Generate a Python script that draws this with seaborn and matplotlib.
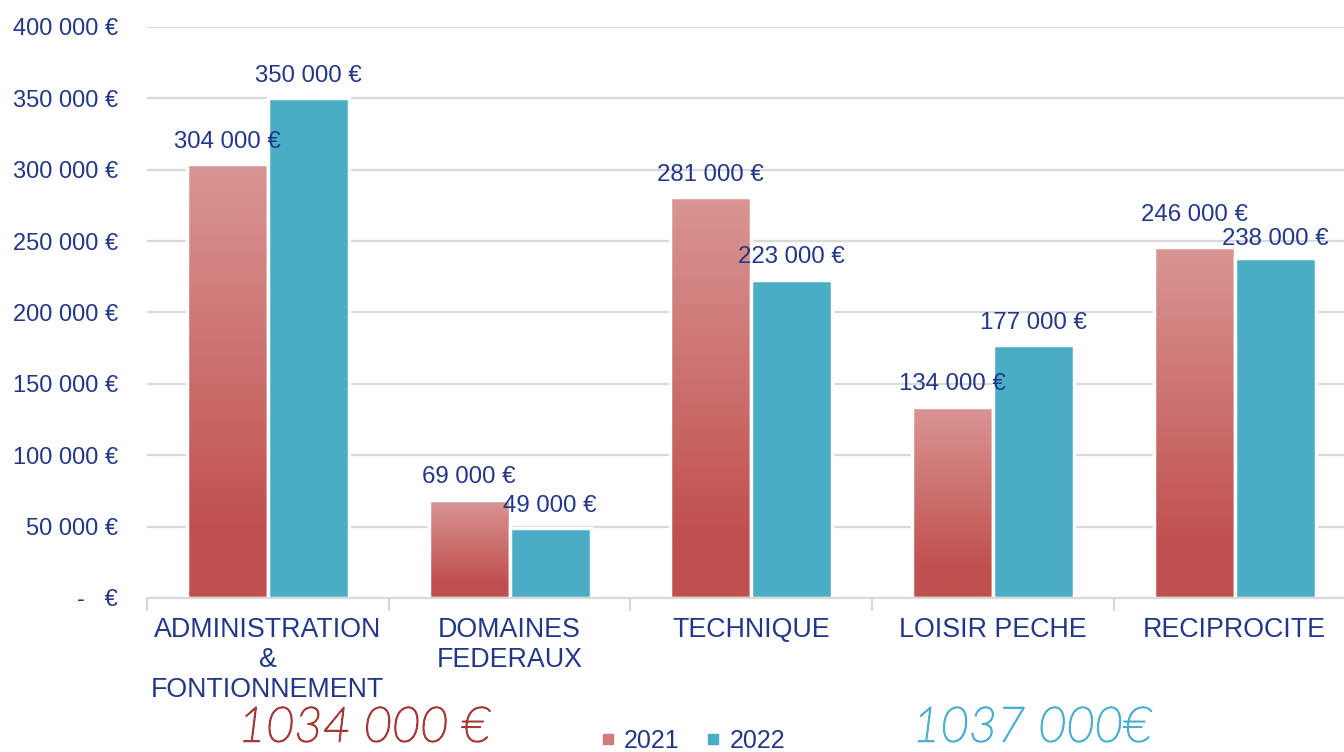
import numpy as np
import pandas as pd
import matplotlib
matplotlib.use("Agg")
import matplotlib.pyplot as plt
import matplotlib.patheffects as pe
from matplotlib.colors import LinearSegmentedColormap
from matplotlib.lines import Line2D
from matplotlib.ticker import FuncFormatter
import seaborn as sns

# Budget per poste, two years
categories = ["ADMINISTRATION\n&\nFONTIONNEMENT", "DOMAINES\nFEDERAUX",
              "TECHNIQUE", "LOISIR PECHE", "RECIPROCITE"]
years = ["2021", "2022"]
values_2021 = [304000, 69000, 281000, 134000, 246000]
values_2022 = [350000, 49000, 223000, 177000, 238000]
totals = ["1034 000 €", "1037 000€"]
y_ticks = [0, 50000, 100000, 150000, 200000, 250000, 300000, 350000, 400000]

NAVY = "#22378A"
RED_DARK = "#C0504D"
RED_LIGHT = "#D99694"
TEAL = "#4BACC6"
GRID = "#D9D9D9"


def euro(v):
    if v == 0:
        return "-   €"
    return f"{int(v):,}".replace(",", " ") + " €"


sns.set_theme(style="white")
plt.rcParams["font.family"] = ["Liberation Sans", "DejaVu Sans"]

df = pd.DataFrame({
    "categorie": categories * 2,
    "annee": [years[0]] * len(categories) + [years[1]] * len(categories),
    "montant": values_2021 + values_2022,
})

fig = plt.figure(figsize=(13.44, 7.52), dpi=100)
ax = fig.add_axes([147 / 1344, 154 / 752, 5 * 241.7 / 1344, 571 / 752])

sns.barplot(data=df, x="categorie", y="montant", hue="annee",
            order=categories, hue_order=years,
            palette=[RED_LIGHT, TEAL], saturation=1, width=0.67,
            edgecolor="white", linewidth=2.5, errorbar=None,
            legend=False, ax=ax)

ax.set_xlim(-0.5, 4.5)
ax.set_ylim(0, 400000)

# vertical red gradient on the 2021 bars
cmap = LinearSegmentedColormap.from_list(
    "rouge", [(0.0, RED_DARK), (0.15, RED_DARK), (1.0, RED_LIGHT)])
grad = np.linspace(0, 1, 256).reshape(-1, 1)
for bar in ax.containers[0]:
    x0, w, h = bar.get_x(), bar.get_width(), bar.get_height()
    im = ax.imshow(grad, extent=[x0, x0 + w, 0, h], origin="lower",
                   cmap=cmap, aspect="auto", zorder=0.9)
    im.set_clip_path(bar)
    bar.set_facecolor("none")
ax.set_xlim(-0.5, 4.5)
ax.set_ylim(0, 400000)

# value labels above bars; nudge apart labels of near-equal bars
for i in range(len(categories)):
    pair = [values_2021[i], values_2022[i]]
    close = abs(pair[0] - pair[1]) < 15000
    for k, (container, v) in enumerate(zip(ax.containers, pair)):
        bar = container[i]
        dy = 16
        if close:
            dy += 7 if v == max(pair) else -2
        ax.annotate(euro(v), (bar.get_x() + bar.get_width() / 2, v),
                    xytext=(0, dy), textcoords="offset points",
                    ha="center", va="center", color=NAVY, fontsize=17.3,
                    zorder=5)

ax.set_axisbelow(True)
ax.yaxis.grid(True, color=GRID, linewidth=1.6)
ax.xaxis.grid(False)
for s in ["left", "top", "right"]:
    ax.spines[s].set_visible(False)
ax.spines["bottom"].set_color(GRID)
ax.spines["bottom"].set_linewidth(1.6)

ax.set_yticks(y_ticks)
ax.yaxis.set_major_formatter(FuncFormatter(lambda v, p: euro(v)))
ax.tick_params(axis="y", length=0, pad=21, labelsize=17, labelcolor=NAVY)

ax.set_xticks(range(len(categories)))
ax.set_xticklabels(categories, linespacing=1.2)
ax.tick_params(axis="x", which="major", length=0, pad=14, labelsize=19.3,
               labelcolor=NAVY)
ax.set_xticks(np.arange(-0.5, len(categories), 1), minor=True)
ax.tick_params(axis="x", which="minor", length=9, color=GRID, width=1.6,
               bottom=True)
ax.set_xlabel("")
ax.set_ylabel("")

handles = [Line2D([], [], marker="s", ls="", color="#D27A77", markersize=7),
           Line2D([], [], marker="s", ls="", color=TEAL, markersize=7)]
fig.legend(handles=handles, labels=years, loc="center",
           bbox_to_anchor=(692 / 1344, 11 / 752), ncol=2, frameon=False,
           fontsize=18, labelcolor=NAVY, handletextpad=0.3,
           columnspacing=1.0, handlelength=0.7)

# handwritten-style totals: fine pen stroke
for x_px, text, col in [(364, totals[0], "#A33A37"),
                        (1032, totals[1], "#4AAFD0")]:
    fig.text(x_px / 1344, 1 - 729 / 752, text, ha="center", va="center",
             color=col, fontsize=35, fontstyle="italic", fontweight="light",
             family=["Lato", "DejaVu Sans"],
             path_effects=[pe.withStroke(linewidth=1.1, foreground=col)])

fig.savefig("out.png", dpi=100)
